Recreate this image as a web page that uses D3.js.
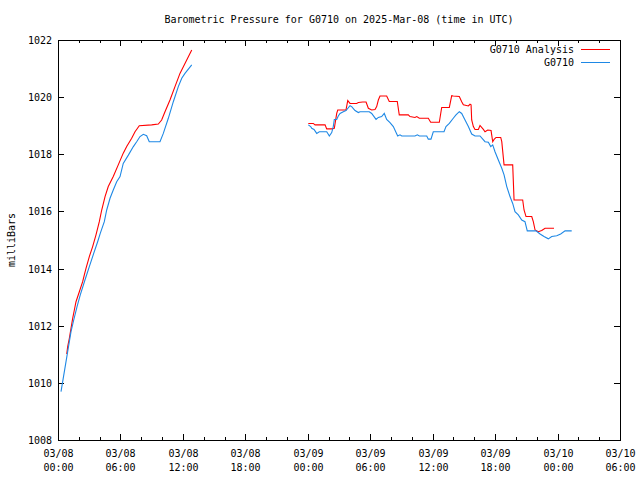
<!DOCTYPE html>
<html><head><meta charset="utf-8">
<script src="https://cdn.jsdelivr.net/npm/d3@7"></script>
<style>body{margin:0;background:#fff}svg{display:block}text{font-family:"DejaVu Sans Mono",monospace;font-size:10px;fill:#000}</style>
</head><body><svg id="c" width="640" height="480"></svg>
<script>
const title = "Barometric Pressure for G0710 on 2025-Mar-08 (time in UTC)";
const yLabel = "milliBars";
const seriesNames = ["G0710 Analysis", "G0710"];
const startTime = "2025-03-08T00:00:00Z";
const yTicks = [1008,1010,1012,1014,1016,1018,1020,1022];
// hours since 03/08 00:00 UTC; null = gap
const analysisHours = [0.84,0.93,1.09,1.25,1.41,1.57,1.73,2.05,2.37,2.53,2.69,3.01,3.33,3.65,3.97,4.20,4.52,4.83,5.31,5.79,6.27,6.60,7.08,7.40,7.81,9.00,9.64,9.96,10.28,10.76,11.24,11.72,12.20,12.85,
 null,
 24.05,24.53,24.70,25.66,25.82,26.30,26.55,26.78,26.88,27.67,27.84,28.06,28.70,28.86,29.28,29.60,29.82,30.14,30.46,30.62,30.78,30.94,31.58,31.83,32.60,32.79,33.66,33.82,34.30,34.47,34.72,35.58,35.81,36.64,36.80,36.87,37.60,37.83,37.98,38.56,38.79,38.95,39.43,39.59,39.69,39.75,39.91,40.07,40.39,40.55,40.87,41.03,41.29,41.61,41.77,41.90,42.09,42.54,42.64,42.86,43.69,43.82,44.65,44.78,44.97,45.52,45.67,45.84,46.15,46.48,46.80,47.66];
const analysisValues = [1011.01,1011.27,1011.56,1011.91,1012.26,1012.55,1012.84,1013.19,1013.54,1013.78,1014.01,1014.42,1014.77,1015.18,1015.64,1016.05,1016.52,1016.87,1017.22,1017.63,1018.04,1018.27,1018.56,1018.79,1019.0,1019.03,1019.06,1019.2,1019.49,1019.9,1020.37,1020.83,1021.18,1021.65,
 null,
 1019.08,1019.08,1019.03,1019.03,1018.89,1018.89,1018.91,1019.43,1019.55,1019.55,1019.88,1019.78,1019.78,1019.81,1019.83,1019.83,1019.61,1019.55,1019.57,1019.67,1019.9,1020.04,1020.04,1019.85,1019.85,1019.38,1019.38,1019.32,1019.29,1019.32,1019.26,1019.26,1019.12,1019.12,1019.49,1019.64,1019.64,1020.05,1020.04,1020.02,1019.84,1019.73,1019.69,1019.75,1019.73,1019.2,1018.97,1018.87,1018.87,1019.01,1018.87,1018.79,1018.85,1018.83,1018.44,1018.52,1018.59,1018.59,1018.44,1017.63,1017.63,1016.4,1016.4,1016.05,1015.82,1015.82,1015.64,1015.35,1015.29,1015.33,1015.41,1015.41];
const stationHours = [0.29,0.93,1.25,1.51,1.83,2.14,2.59,3.01,3.43,3.81,4.06,4.45,4.68,5.00,5.31,5.64,5.96,6.27,6.76,7.24,7.56,7.88,8.20,8.52,8.77,9.80,10.12,10.60,11.08,11.56,11.89,12.20,12.85,
 null,
 24.05,24.28,24.38,24.60,24.86,25.11,25.82,25.97,26.07,26.30,26.45,26.55,26.78,26.93,27.10,27.41,27.67,28.06,28.22,28.54,28.86,29.02,29.91,30.14,30.56,30.78,31.10,31.35,31.58,31.90,32.22,32.55,32.64,32.86,33.03,34.30,34.53,34.72,35.43,35.58,35.84,36.06,37.09,37.28,37.60,37.98,38.24,38.56,38.79,39.11,39.43,39.75,40.07,40.55,41.03,41.35,41.58,41.77,41.99,42.31,42.64,42.86,43.12,43.43,43.69,43.91,44.23,44.56,44.87,45.09,45.93,46.32,46.70,47.11,47.44,47.92,48.30,48.72,49.36];
const stationValues = [1009.69,1011.09,1011.79,1012.2,1012.67,1013.08,1013.6,1014.07,1014.53,1014.94,1015.23,1015.64,1016.05,1016.46,1016.75,1017.04,1017.22,1017.68,1017.97,1018.27,1018.44,1018.62,1018.7,1018.65,1018.44,1018.44,1018.73,1019.26,1019.84,1020.37,1020.66,1020.83,1021.13,
 null,
 1019.03,1018.97,1018.91,1018.87,1018.73,1018.79,1018.79,1018.7,1018.64,1018.76,1018.97,1019.22,1019.22,1019.34,1019.43,1019.49,1019.53,1019.7,1019.67,1019.53,1019.46,1019.49,1019.49,1019.43,1019.22,1019.29,1019.32,1019.43,1019.22,1019.11,1018.97,1018.71,1018.64,1018.68,1018.64,1018.64,1018.68,1018.64,1018.64,1018.53,1018.53,1018.79,1018.79,1018.97,1019.08,1019.26,1019.38,1019.49,1019.43,1019.2,1018.97,1018.71,1018.64,1018.64,1018.44,1018.42,1018.27,1018.33,1018.09,1017.8,1017.51,1017.28,1016.87,1016.52,1016.28,1015.99,1015.88,1015.7,1015.64,1015.32,1015.32,1015.21,1015.12,1015.04,1015.12,1015.15,1015.21,1015.32,1015.32];

const svg = d3.select("#c");
const L = 58, R = 620, T = 40, B = 440;
const t0 = new Date(startTime);
const toDate = h => new Date(t0.getTime() + h * 3600e3);
const x = d3.scaleUtc().domain([t0, toDate(54)]).range([L, R]);
const y = d3.scaleLinear().domain([1008, 1022]).range([B, T]);

function mk(hours, vals) { return hours.map((h, i) => ({h, v: vals[i]})); }
const series = [
  {name: seriesNames[0], color: "#ff0000", data: mk(analysisHours, analysisValues)},
  {name: seriesNames[1], color: "#1e88e5", data: mk(stationHours, stationValues)}
];

const g = svg.append("g");
// border
g.append("rect").attr("x", L + .5).attr("y", T + .5).attr("width", R - L).attr("height", B - T)
  .attr("fill", "none").attr("stroke", "#000").attr("stroke-width", 1);

// y ticks (left and right mirror)
yTicks.forEach(v => {
  const yy = Math.round(y(v)) + .5;
  g.append("line").attr("x1", L).attr("x2", L + 6).attr("y1", yy).attr("y2", yy).attr("stroke", "#000");
  g.append("line").attr("x1", R - 6).attr("x2", R).attr("y1", yy).attr("y2", yy).attr("stroke", "#000");
  g.append("text").attr("x", L - 6).attr("y", yy).attr("dy", "0.35em").attr("text-anchor", "end").text(v);
});
// x ticks
const major = x.ticks(d3.utcHour.every(6));
const minor = x.ticks(d3.utcHour.every(2));
minor.forEach(d => {
  const xx = Math.round(x(d)) + .5;
  const len = (d.getUTCHours() % 6 === 0) ? 6 : 3;
  g.append("line").attr("x1", xx).attr("x2", xx).attr("y1", B).attr("y2", B - len).attr("stroke", "#000");
  g.append("line").attr("x1", xx).attr("x2", xx).attr("y1", T).attr("y2", T + len).attr("stroke", "#000");
});
const fDate = d3.utcFormat("%m/%d"), fTime = d3.utcFormat("%H:%M");
major.forEach(d => {
  const xx = Math.round(x(d)) + .5;
  const t = g.append("text").attr("text-anchor", "middle");
  t.append("tspan").attr("x", xx).attr("y", 457).text(fDate(d));
  t.append("tspan").attr("x", xx).attr("y", 471).text(fTime(d));
});

// lines
const line = d3.line().defined(d => d.h !== null && d.v !== null)
  .x(d => x(toDate(d.h))).y(d => y(d.v));
series.forEach(s => {
  g.append("path").datum(s.data).attr("d", line).attr("fill", "none")
    .attr("stroke", s.color).attr("stroke-width", 1.1);
});

// title and y label
svg.append("text").attr("x", 339).attr("y", 23).attr("text-anchor", "middle").text(title);
svg.append("text").attr("transform", "translate(15,240) rotate(-90)").attr("text-anchor", "middle").text(yLabel);

// legend
series.forEach((s, i) => {
  const ly = 49.5 + i * 13;
  svg.append("text").attr("x", 574).attr("y", ly).attr("dy", "0.35em").attr("text-anchor", "end").text(s.name);
  svg.append("line").attr("x1", 581).attr("x2", 610).attr("y1", ly).attr("y2", ly)
    .attr("stroke", s.color).attr("stroke-width", 1);
});
</script></body></html>
